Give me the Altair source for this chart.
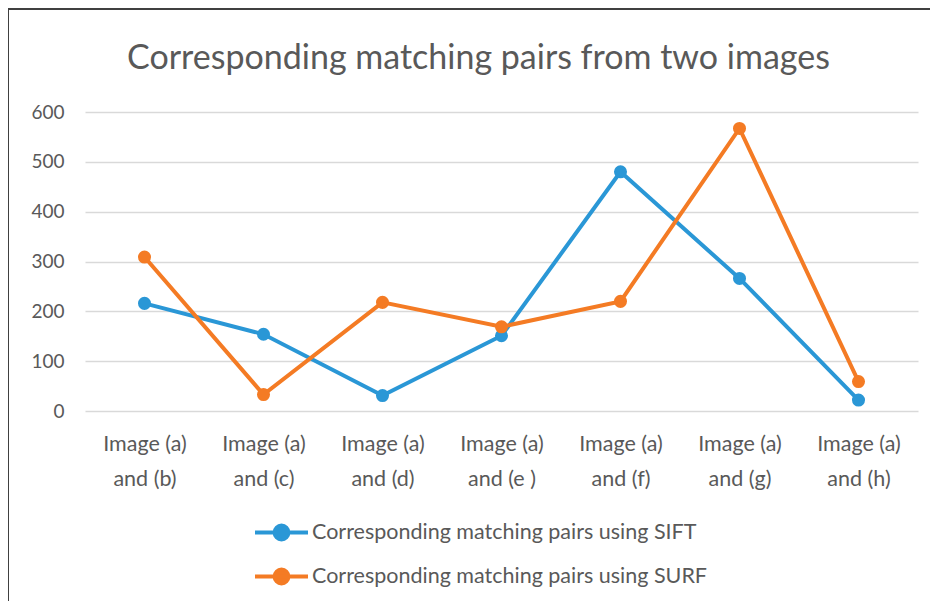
import altair as alt
import pandas as pd

categories = ["Image (a) and (b)", "Image (a) and (c)", "Image (a) and (d)", "Image (a) and (e )",
              "Image (a) and (f)", "Image (a) and (g)", "Image (a) and (h)"]
sift = [216, 154, 31, 151, 480, 266, 22]
surf = [309, 33, 218, 169, 220, 567, 59]
series_names = ["Corresponding matching pairs using SIFT", "Corresponding matching pairs using SURF"]
colors = ["#2a97d6", "#f47b24"]

rows = []
for name, vals in zip(series_names, [sift, surf]):
    for c, v in zip(categories, vals):
        rows.append({"category": c, "value": v, "series": name})
df = pd.DataFrame(rows)

FONT = "Lato"
GRAY = "#595959"

x = alt.X("category:N", sort=categories, title=None,
          scale=alt.Scale(paddingInner=0, paddingOuter=0.5),
          axis=alt.Axis(labelExpr="[slice(datum.label,0,9), slice(datum.label,10)]",
                        labelAngle=0, labelFontSize=21.5, labelColor=GRAY, labelFont=FONT,
                        labelLineHeight=35, labelPadding=22, ticks=False, domain=False,
                        labelBaseline="top"))
y = alt.Y("value:Q", title=None,
          scale=alt.Scale(domain=[0, 600], nice=False),
          axis=alt.Axis(values=[0, 100, 200, 300, 400, 500, 600], labelFontSize=19,
                        labelColor=GRAY, labelFont=FONT, ticks=False, domain=False,
                        labelPadding=21, gridColor="#d9d9d9", gridWidth=1.5))
color = alt.Color("series:N", sort=series_names,
                  scale=alt.Scale(domain=series_names, range=colors),
                  legend=alt.Legend(title=None, orient="none", legendX=168, legendY=392,
                                    direction="vertical", labelFontSize=21.5, labelColor=GRAY,
                                    labelFont=FONT, labelLimit=700, rowPadding=-6,
                                    symbolType="M-1,0L1,0M-0.26,0A0.26,0.26,0,1,0,0.26,0A0.26,0.26,0,1,0,-0.26,0Z",
                                    symbolSize=2809, symbolStrokeWidth=4, labelOffset=2))

base = alt.Chart(df)
lines = base.mark_line(strokeWidth=4).encode(x=x, y=y, color=color)
points = base.mark_point(filled=True, size=170, opacity=1).encode(x=x, y=y, color=color)

border = alt.Chart(pd.DataFrame({"a": [0]})).mark_rect(
    fill=None, stroke="#404040", strokeWidth=2, clip=False
).encode(x=alt.value(-77), x2=alt.value(860), y=alt.value(-103), y2=alt.value(500))

chart = alt.layer(border, lines, points).properties(
    width=833, height=299,
    background="white",
    autosize=alt.AutoSizeParams(type="none"),
    padding={"left": 77, "top": 104, "right": 12, "bottom": 190},
    title=alt.Title("Corresponding matching pairs from two images", fontSize=34,
                    font=FONT, fontWeight="normal", color=GRAY, anchor="middle",
                    dx=-23, offset=-68),
).configure_view(stroke=None)

chart.save("out.html", embed_options={"renderer": "svg", "actions": False})
